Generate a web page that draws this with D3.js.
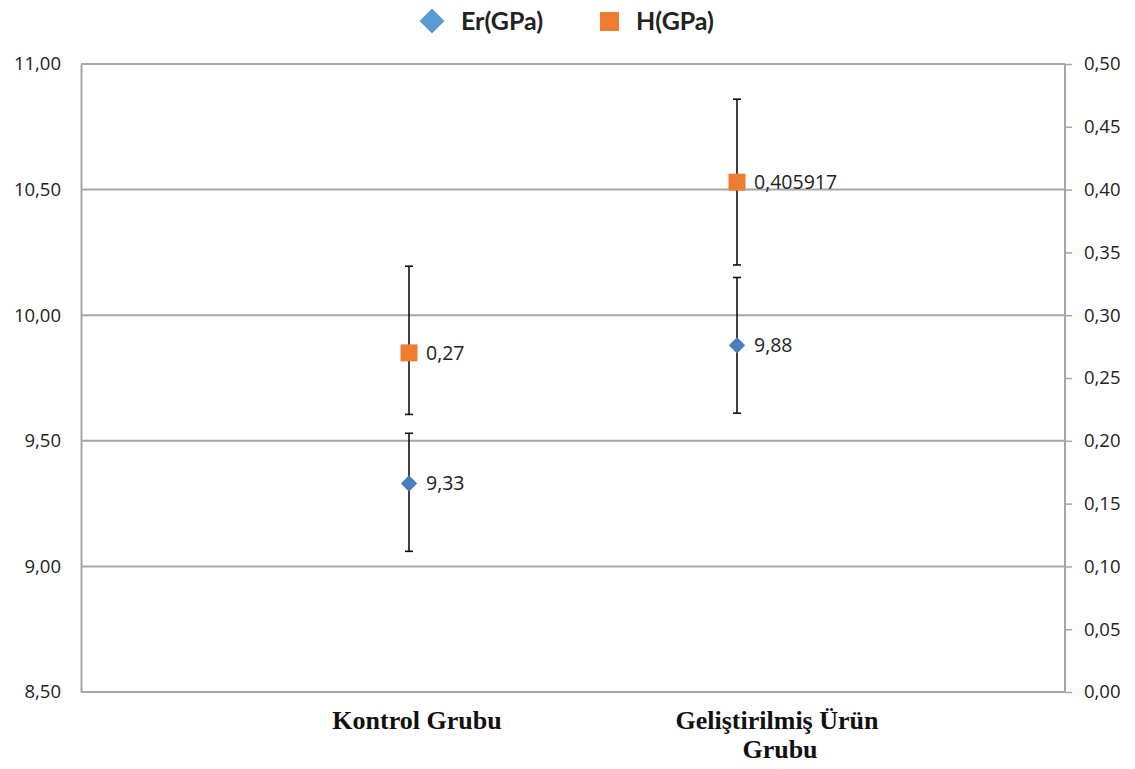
<!DOCTYPE html>
<html>
<head>
<meta charset="utf-8">
<script src="https://cdn.jsdelivr.net/npm/d3@7"></script>
<style>
  html, body { margin: 0; padding: 0; background: #fff; }
  svg { display: block; }
</style>
</head>
<body>
<svg id="chart" width="1135" height="769"></svg>
<script>
// Groups on the x axis
const categories = ["Kontrol Grubu", "Geliştirilmiş Ürün Grubu"];
const categoryLines = [["Kontrol Grubu"], ["Geliştirilmiş Ürün", "Grubu"]];

// Reduced modulus Er (GPa), left axis
const erValues = [9.33, 9.88];
const erLow = [9.06, 9.61];
const erHigh = [9.53, 10.15];
const erLabels = ["9,33", "9,88"];

// Hardness H (GPa), right axis
const hValues = [0.27, 0.405917];
const hLow = [0.221, 0.340];
const hHigh = [0.339, 0.472];
const hLabels = ["0,27", "0,405917"];

// Axis ticks
const leftTicks = [8.5, 9.0, 9.5, 10.0, 10.5, 11.0];
const rightTicks = [0, 0.05, 0.10, 0.15, 0.20, 0.25, 0.30, 0.35, 0.40, 0.45, 0.50];

const legendItems = ["Er(GPa)", "H(GPa)"];

const svg = d3.select("#chart");
const margin = { top: 64, right: 70, bottom: 77, left: 81 };
const W = 1135, H = 769;
const plotW = W - margin.left - margin.right;
const plotH = H - margin.top - margin.bottom;

const colEr = "#4A7EBB";
const colErLegend = "#5B9BD5";
const colH = "#ED7D31";
const gridCol = "#A6A6A6";

const trLocale = d3.formatLocale({ decimal: ",", thousands: ".", grouping: [3], currency: ["", ""] });
const fmt2 = trLocale.format(".2f");

const x = d3.scalePoint().domain(categories).range([0, plotW]).padding(1);
const yL = d3.scaleLinear().domain([8.5, 11]).range([plotH, 0]);
const yR = d3.scaleLinear().domain([0, 0.5]).range([plotH, 0]);

const g = svg.append("g").attr("transform", `translate(${margin.left},${margin.top})`);

// Horizontal gridlines at the left-axis ticks
g.append("g").selectAll("line").data(leftTicks).join("line")
  .attr("x1", 0).attr("x2", plotW)
  .attr("y1", d => yL(d)).attr("y2", d => yL(d))
  .attr("stroke", gridCol).attr("stroke-width", 2);

// Left axis
const axL = g.append("g").call(d3.axisLeft(yL).tickValues(leftTicks).tickFormat(fmt2).tickSize(0).tickPadding(20));
axL.select(".domain").attr("stroke", gridCol).attr("stroke-width", 2);
axL.selectAll("text").attr("font-family", "'Open Sans', sans-serif").attr("font-size", 18.5).attr("fill", "#222");

// Right axis
const axR = g.append("g").attr("transform", `translate(${plotW},0)`)
  .call(d3.axisRight(yR).tickValues(rightTicks).tickFormat(fmt2).tickSize(7).tickPadding(12));
axR.select(".domain").attr("stroke", gridCol).attr("stroke-width", 2).attr("d", `M0,0V${plotH}`);
axR.selectAll(".tick line").attr("stroke", gridCol).attr("stroke-width", 1.5);
axR.selectAll("text").attr("font-family", "'Open Sans', sans-serif").attr("font-size", 18.5).attr("fill", "#222");

// Bottom axis line
g.append("line").attr("x1", 0).attr("x2", plotW).attr("y1", plotH).attr("y2", plotH)
  .attr("stroke", gridCol).attr("stroke-width", 2);

// Category labels (serif, bold)
const catOffset = [8, 40];
categories.forEach((c, i) => {
  const t = g.append("text")
    .attr("x", x(c) + catOffset[i]).attr("y", plotH + 37)
    .attr("text-anchor", "middle")
    .attr("font-family", "'Liberation Serif', 'Times New Roman', serif")
    .attr("font-weight", "bold").attr("font-size", 26).attr("fill", "#111");
  categoryLines[i].forEach((line, k) => {
    t.append("tspan").attr("x", x(c) + catOffset[i] + (k > 0 ? 3 : 0)).attr("dy", k === 0 ? 0 : 29).text(line);
  });
});

// Error bars
function errorBars(lows, highs, scale) {
  const eg = g.append("g").attr("stroke", "#111").attr("stroke-width", 1.6);
  categories.forEach((c, i) => {
    const cx = x(c);
    eg.append("line").attr("x1", cx).attr("x2", cx).attr("y1", scale(lows[i])).attr("y2", scale(highs[i]));
    eg.append("line").attr("x1", cx - 4).attr("x2", cx + 4).attr("y1", scale(lows[i])).attr("y2", scale(lows[i]));
    eg.append("line").attr("x1", cx - 4).attr("x2", cx + 4).attr("y1", scale(highs[i])).attr("y2", scale(highs[i]));
  });
}
errorBars(erLow, erHigh, yL);
errorBars(hLow, hHigh, yR);

// Er markers (diamonds)
const diamond = d3.symbol().type(d3.symbolDiamond2).size(170);
g.append("g").selectAll("path").data(erValues).join("path")
  .attr("d", diamond)
  .attr("transform", (d, i) => `translate(${x(categories[i])},${yL(d)})`)
  .attr("fill", colEr);

// H markers (squares)
g.append("g").selectAll("rect").data(hValues).join("rect")
  .attr("x", (d, i) => x(categories[i]) - 8.5)
  .attr("y", d => yR(d) - 8.5)
  .attr("width", 17).attr("height", 17)
  .attr("fill", colH);

// Value labels
const labelFont = "'Open Sans', sans-serif";
g.append("g").selectAll("text").data(erValues).join("text")
  .attr("x", (d, i) => x(categories[i]) + 17)
  .attr("y", d => yL(d)).attr("dy", "0.35em")
  .attr("font-family", labelFont).attr("font-size", 19.5).attr("fill", "#222")
  .text((d, i) => erLabels[i]);
g.append("g").selectAll("text").data(hValues).join("text")
  .attr("x", (d, i) => x(categories[i]) + 17)
  .attr("y", d => yR(d)).attr("dy", "0.35em")
  .attr("font-family", labelFont).attr("font-size", 19.5).attr("fill", "#222")
  .text((d, i) => hLabels[i]);

// Legend
const lg = svg.append("g");
lg.append("path").attr("d", d3.symbol().type(d3.symbolDiamond2).size(400))
  .attr("transform", "translate(432,21)").attr("fill", colErLegend);
lg.append("text").attr("x", 461).attr("y", 21).attr("dy", "0.35em")
  .attr("font-family", "Lato, 'Open Sans', sans-serif").attr("font-weight", "bold")
  .attr("font-size", 25).attr("fill", "#222").text(legendItems[0]);
lg.append("rect").attr("x", 600).attr("y", 12).attr("width", 19).attr("height", 19).attr("fill", colH);
lg.append("text").attr("x", 636).attr("y", 21).attr("dy", "0.35em")
  .attr("font-family", "Lato, 'Open Sans', sans-serif").attr("font-weight", "bold")
  .attr("font-size", 25).attr("fill", "#222").text(legendItems[1]);
</script>
</body>
</html>
